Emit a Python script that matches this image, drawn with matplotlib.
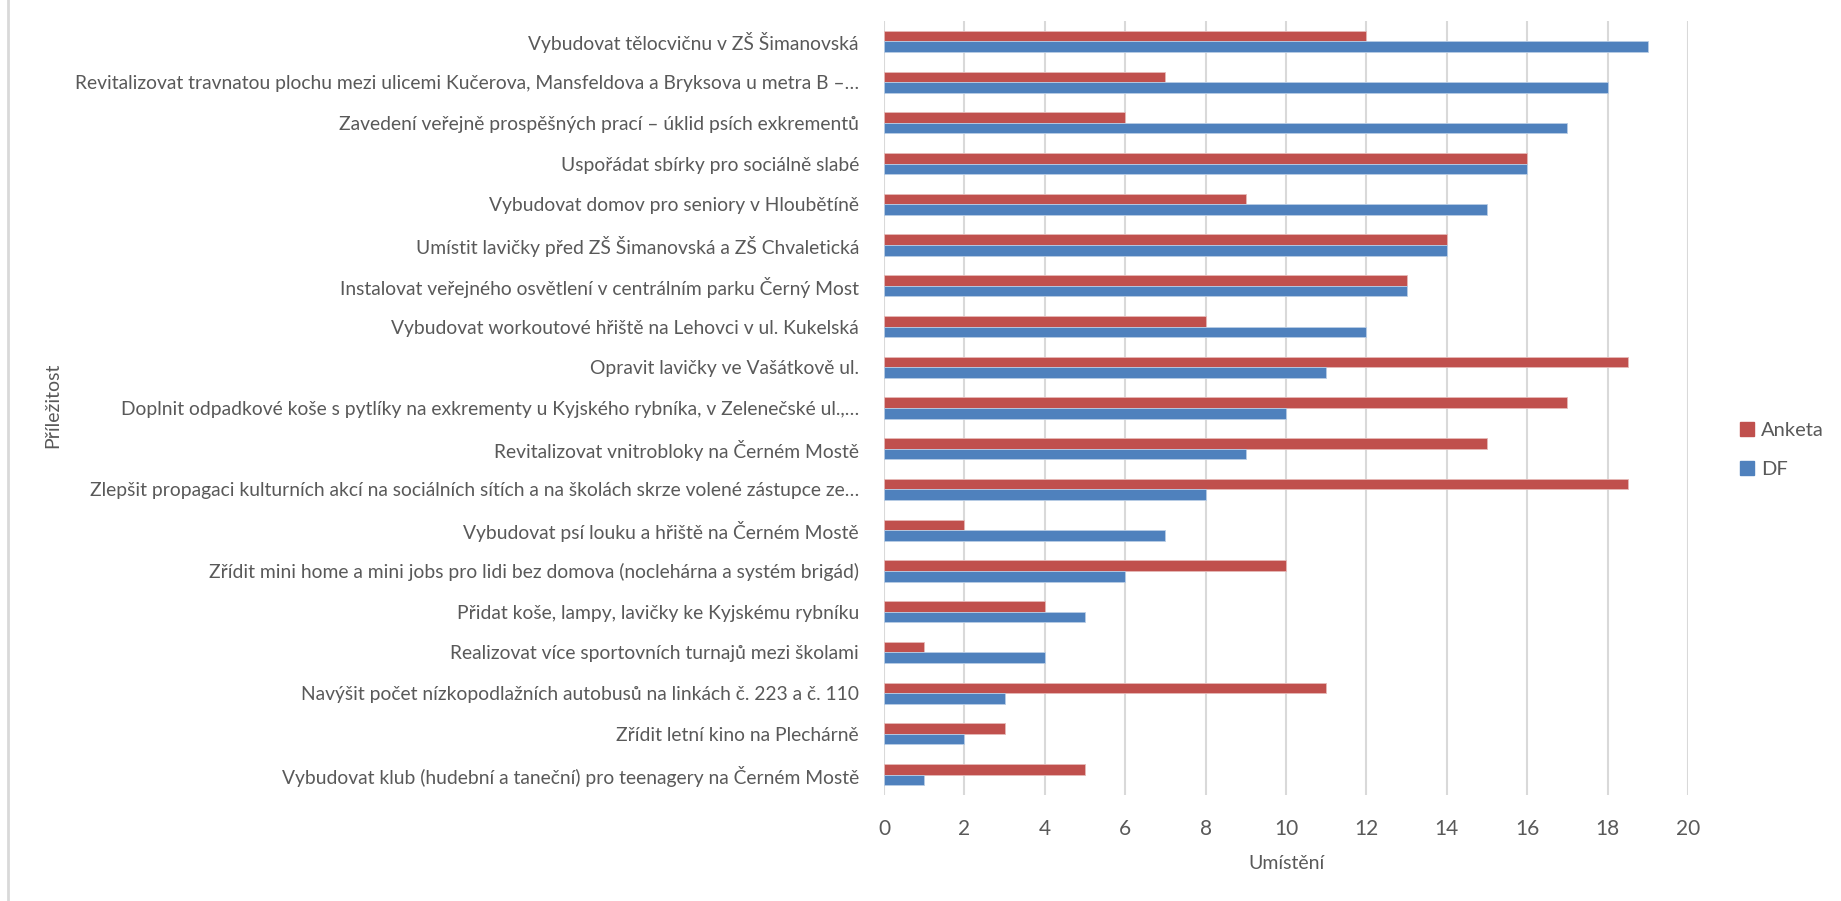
import matplotlib
matplotlib.use("Agg")
import matplotlib.pyplot as plt
import matplotlib.patches as patches
from matplotlib.lines import Line2D
import numpy as np

plt.rcParams['font.family'] = ['Lato', 'DejaVu Sans']

# categories listed top to bottom, as in the chart
categories = [
    "Vybudovat tělocvičnu v ZŠ Šimanovská",
    "Revitalizovat travnatou plochu mezi ulicemi Kučerova, Mansfeldova a Bryksova u metra B –…",
    "Zavedení veřejně prospěšných prací – úklid psích exkrementů",
    "Uspořádat sbírky pro sociálně slabé",
    "Vybudovat domov pro seniory v Hloubětíně",
    "Umístit lavičky před ZŠ Šimanovská a ZŠ Chvaletická",
    "Instalovat veřejného osvětlení v centrálním parku Černý Most",
    "Vybudovat workoutové hřiště na Lehovci v ul. Kukelská",
    "Opravit lavičky ve Vašátkově ul.",
    "Doplnit odpadkové koše s pytlíky na exkrementy u Kyjského rybníka, v Zelenečské ul.,…",
    "Revitalizovat vnitrobloky na Černém Mostě",
    "Zlepšit propagaci kulturních akcí na sociálních sítích a na školách skrze volené zástupce ze…",
    "Vybudovat psí louku a hřiště na Černém Mostě",
    "Zřídit mini home a mini jobs pro lidi bez domova (noclehárna a systém brigád)",
    "Přidat koše, lampy, lavičky ke Kyjskému rybníku",
    "Realizovat více sportovních turnajů mezi školami",
    "Navýšit počet nízkopodlažních autobusů na linkách č. 223 a č. 110",
    "Zřídit letní kino na Plechárně",
    "Vybudovat klub (hudební a taneční) pro teenagery na Černém Mostě",
]
anketa = [12, 7, 6, 16, 9, 14, 13, 8, 18.5, 17, 15, 18.5, 2, 10, 4, 1, 11, 3, 5]
df = [19, 18, 17, 16, 15, 14, 13, 12, 11, 10, 9, 8, 7, 6, 5, 4, 3, 2, 1]
x_ticks = list(range(0, 21, 2))

red = "#C0504D"
blue = "#4F81BD"
txt = "#595959"

fig = plt.figure(figsize=(18.41, 9.01), dpi=100)
ax = fig.add_axes([884 / 1841, 1 - 795 / 901, (1688 - 884) / 1841, (795 - 21) / 901])

y = np.arange(len(categories))
h = 0.26
ax.barh(y - h / 2, anketa, height=h, color=red, edgecolor="#E6B9B8", linewidth=0.6,
        label="Anketa", zorder=3)
ax.barh(y + h / 2, df, height=h, color=blue, edgecolor="#B9CDE5", linewidth=0.6,
        label="DF", zorder=3)

ax.set_ylim(len(categories) - 0.5, -0.5)
ax.set_xlim(0, 20)
ax.set_xticks(x_ticks)
ax.set_yticks(y)
ax.set_yticklabels(categories, fontsize=13.9, color=txt)
ax.tick_params(axis="x", length=0, pad=17, labelsize=15, labelcolor=txt)
ax.tick_params(axis="y", length=0, pad=18)
ax.grid(axis="x", color="#D9D9D9", linewidth=1.5, zorder=0)
for s in ax.spines.values():
    s.set_visible(False)

ax.set_xlabel("Umístění", fontsize=14, color=txt, labelpad=12)
fig.text(53 / 1841, 1 - 405 / 901, "Příležitost", rotation=90, fontsize=14,
         color=txt, ha="center", va="center")

# legend, Anketa listed first
handles = [patches.Patch(color=red), patches.Patch(color=blue)]
fig.legend(handles, ["Anketa", "DF"], loc="center left",
           bbox_to_anchor=(1722 / 1841, 1 - 450 / 901), frameon=False,
           fontsize=14.5, labelcolor=txt, handlelength=0.7, handleheight=0.7,
           handletextpad=0.35, labelspacing=1.05)

# left border of the chart frame
fig.add_artist(Line2D([7.5 / 1841, 7.5 / 1841], [0, 1], color="#D9D9D9", linewidth=2,
                      transform=fig.transFigure))

fig.savefig("out.png", dpi=100)
